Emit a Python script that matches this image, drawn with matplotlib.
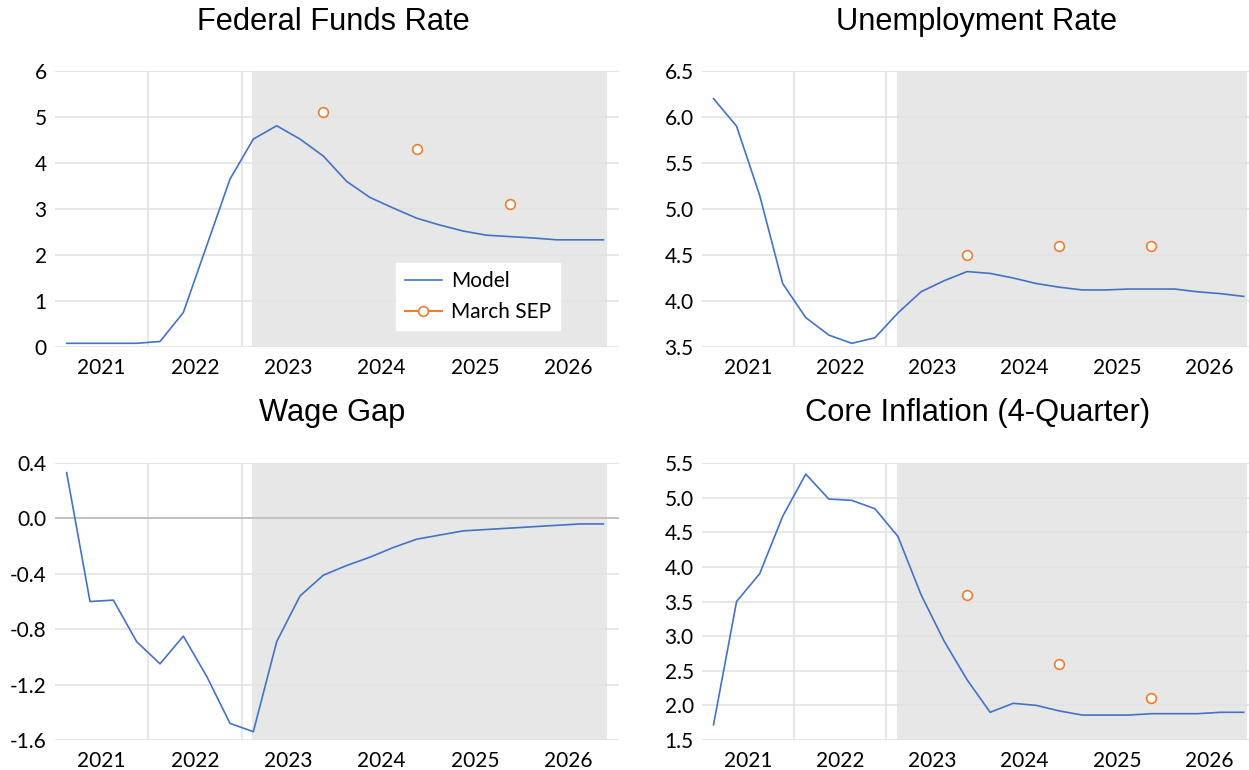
import numpy as np
import matplotlib
matplotlib.use("Agg")
from matplotlib import pyplot as plt
from matplotlib.ticker import FixedLocator, FixedFormatter

plt.rcParams["axes.unicode_minus"] = False

# quarterly data 2021Q1 .. 2026Q4
years = ["2021", "2022", "2023", "2024", "2025", "2026"]

fedFunds = [0.08, 0.08, 0.08, 0.08, 0.12, 0.75, 2.2, 3.65, 4.52, 4.81, 4.52, 4.15,
            3.6, 3.25, 3.02, 2.8, 2.65, 2.52, 2.43, 2.4, 2.37, 2.33, 2.33, 2.33]
unemployment = [6.2, 5.9, 5.15, 4.19, 3.82, 3.63, 3.54, 3.6, 3.87, 4.1, 4.22, 4.32,
                4.3, 4.25, 4.19, 4.15, 4.12, 4.12, 4.13, 4.13, 4.13, 4.1, 4.08, 4.05]
wageGap = [0.33, -0.6, -0.59, -0.89, -1.05, -0.85, -1.14, -1.48, -1.54, -0.89, -0.56, -0.41,
           -0.34, -0.28, -0.21, -0.15, -0.12, -0.09, -0.08, -0.07, -0.06, -0.05, -0.04, -0.04]
coreInflation = [1.72, 3.5, 3.9, 4.73, 5.34, 4.98, 4.96, 4.84, 4.44, 3.6, 2.93, 2.37,
                 1.9, 2.03, 2.0, 1.92, 1.86, 1.86, 1.86, 1.88, 1.88, 1.88, 1.9, 1.9]

# March SEP (year-end values, 2023Q4 / 2024Q4 / 2025Q4)
sepQuarters = [11, 15, 19]
sepFedFunds = [5.1, 4.3, 3.1]
sepUnemployment = [4.5, 4.6, 4.6]
sepCoreInflation = [3.6, 2.6, 2.1]

blue = "#4472C4"
orange = "#ED7D31"
shade = "#E7E7E7"
grid = "#E3E3E3"
tickFont = "Lato"
titleFont = "Liberation Sans"

W, H = 1249, 770
fig = plt.figure(figsize=(W / 100, H / 100), dpi=100)


def makeAxis(left, right, top, bottom):
    return fig.add_axes([left / W, 1 - bottom / H, (right - left) / W, (bottom - top) / H])


def styleAxis(ax, yticks, ylabels, xmax):
    q = np.arange(len(fedFunds))
    ax.set_xlim(-0.5, xmax)
    ax.set_ylim(yticks[0], yticks[-1])
    ax.axvspan(7.95, min(23.15, xmax), color=shade, lw=0, zorder=0.5)
    for s in ax.spines.values():
        s.set_visible(False)
    ax.xaxis.set_major_locator(FixedLocator([1.5 + 4 * k for k in range(len(years))]))
    ax.xaxis.set_major_formatter(FixedFormatter(years))
    ax.xaxis.set_minor_locator(FixedLocator([3.5, 7.5]))
    ax.set_yticks(yticks)
    ax.set_yticklabels(ylabels)
    ax.tick_params(axis="both", which="both", length=0, labelsize=15)
    ax.tick_params(axis="x", pad=8)
    ax.tick_params(axis="y", pad=6)
    for lab in ax.get_xticklabels() + ax.get_yticklabels():
        lab.set_fontfamily(tickFont)
    ax.grid(True, axis="y", which="major", color=grid, lw=1.2, zorder=0)
    ax.grid(True, axis="x", which="minor", color=grid, lw=1.2, zorder=0)
    ax.set_axisbelow(True)
    return q


# Federal Funds Rate
ax1 = makeAxis(55, 619, 71, 347)
q = styleAxis(ax1, [0, 1, 2, 3, 4, 5, 6], ["0", "1", "2", "3", "4", "5", "6"], 23.67)
ax1.plot(q, fedFunds, color=blue, lw=1.2, zorder=3, label="Model")
ax1.plot(sepQuarters, sepFedFunds, ls="none", marker="o", ms=7, mfc="white",
         mec=orange, mew=1.2, zorder=4, label="March SEP")
leg = ax1.legend(loc="upper left", bbox_to_anchor=(0.605, 0.304), frameon=True,
                 fancybox=False, edgecolor="white", framealpha=1,
                 prop={"family": tickFont, "size": 15}, handlelength=1.8,
                 handletextpad=0.45, borderpad=0.4, borderaxespad=0,
                 labelspacing=0.5)
# the SEP legend entry shows a line through the marker
leg.legend_handles[1].set_linestyle("-")
leg.legend_handles[1].set_color(orange)
leg.legend_handles[1].set_markerfacecolor("white")

# Unemployment Rate
ax2 = makeAxis(702, 1249, 71, 347)
q = styleAxis(ax2, [3.5, 4.0, 4.5, 5.0, 5.5, 6.0, 6.5],
              ["3.5", "4.0", "4.5", "5.0", "5.5", "6.0", "6.5"], 23.23)
ax2.plot(q, unemployment, color=blue, lw=1.2, zorder=3)
ax2.plot(sepQuarters, sepUnemployment, ls="none", marker="o", ms=7, mfc="white",
         mec=orange, mew=1.2, zorder=4)

# Wage Gap
ax3 = makeAxis(55, 619, 463, 740)
q = styleAxis(ax3, [-1.6, -1.2, -0.8, -0.4, 0.0, 0.4],
              ["-1.6", "-1.2", "-0.8", "-0.4", "0.0", "0.4"], 23.67)
ax3.axhline(0, color="#BFBFBF", lw=1.3, zorder=2)
ax3.plot(q, wageGap, color=blue, lw=1.2, zorder=3)

# Core Inflation
ax4 = makeAxis(702, 1249, 463, 740)
q = styleAxis(ax4, [1.5, 2.0, 2.5, 3.0, 3.5, 4.0, 4.5, 5.0, 5.5],
              ["1.5", "2.0", "2.5", "3.0", "3.5", "4.0", "4.5", "5.0", "5.5"], 23.23)
ax4.plot(q, coreInflation, color=blue, lw=1.2, zorder=3)
ax4.plot(sepQuarters, sepCoreInflation, ls="none", marker="o", ms=7, mfc="white",
         mec=orange, mew=1.2, zorder=4)

titles = [("Federal Funds Rate", 333, 22), ("Unemployment Rate", 977, 22),
          ("Wage Gap", 332, 413), ("Core Inflation (4-Quarter)", 978, 413)]
for text, x, y in titles:
    fig.text(x / W, 1 - y / H, text, ha="center", va="center",
             fontsize=22.2, family=titleFont)

fig.savefig("out.png", dpi=100)
